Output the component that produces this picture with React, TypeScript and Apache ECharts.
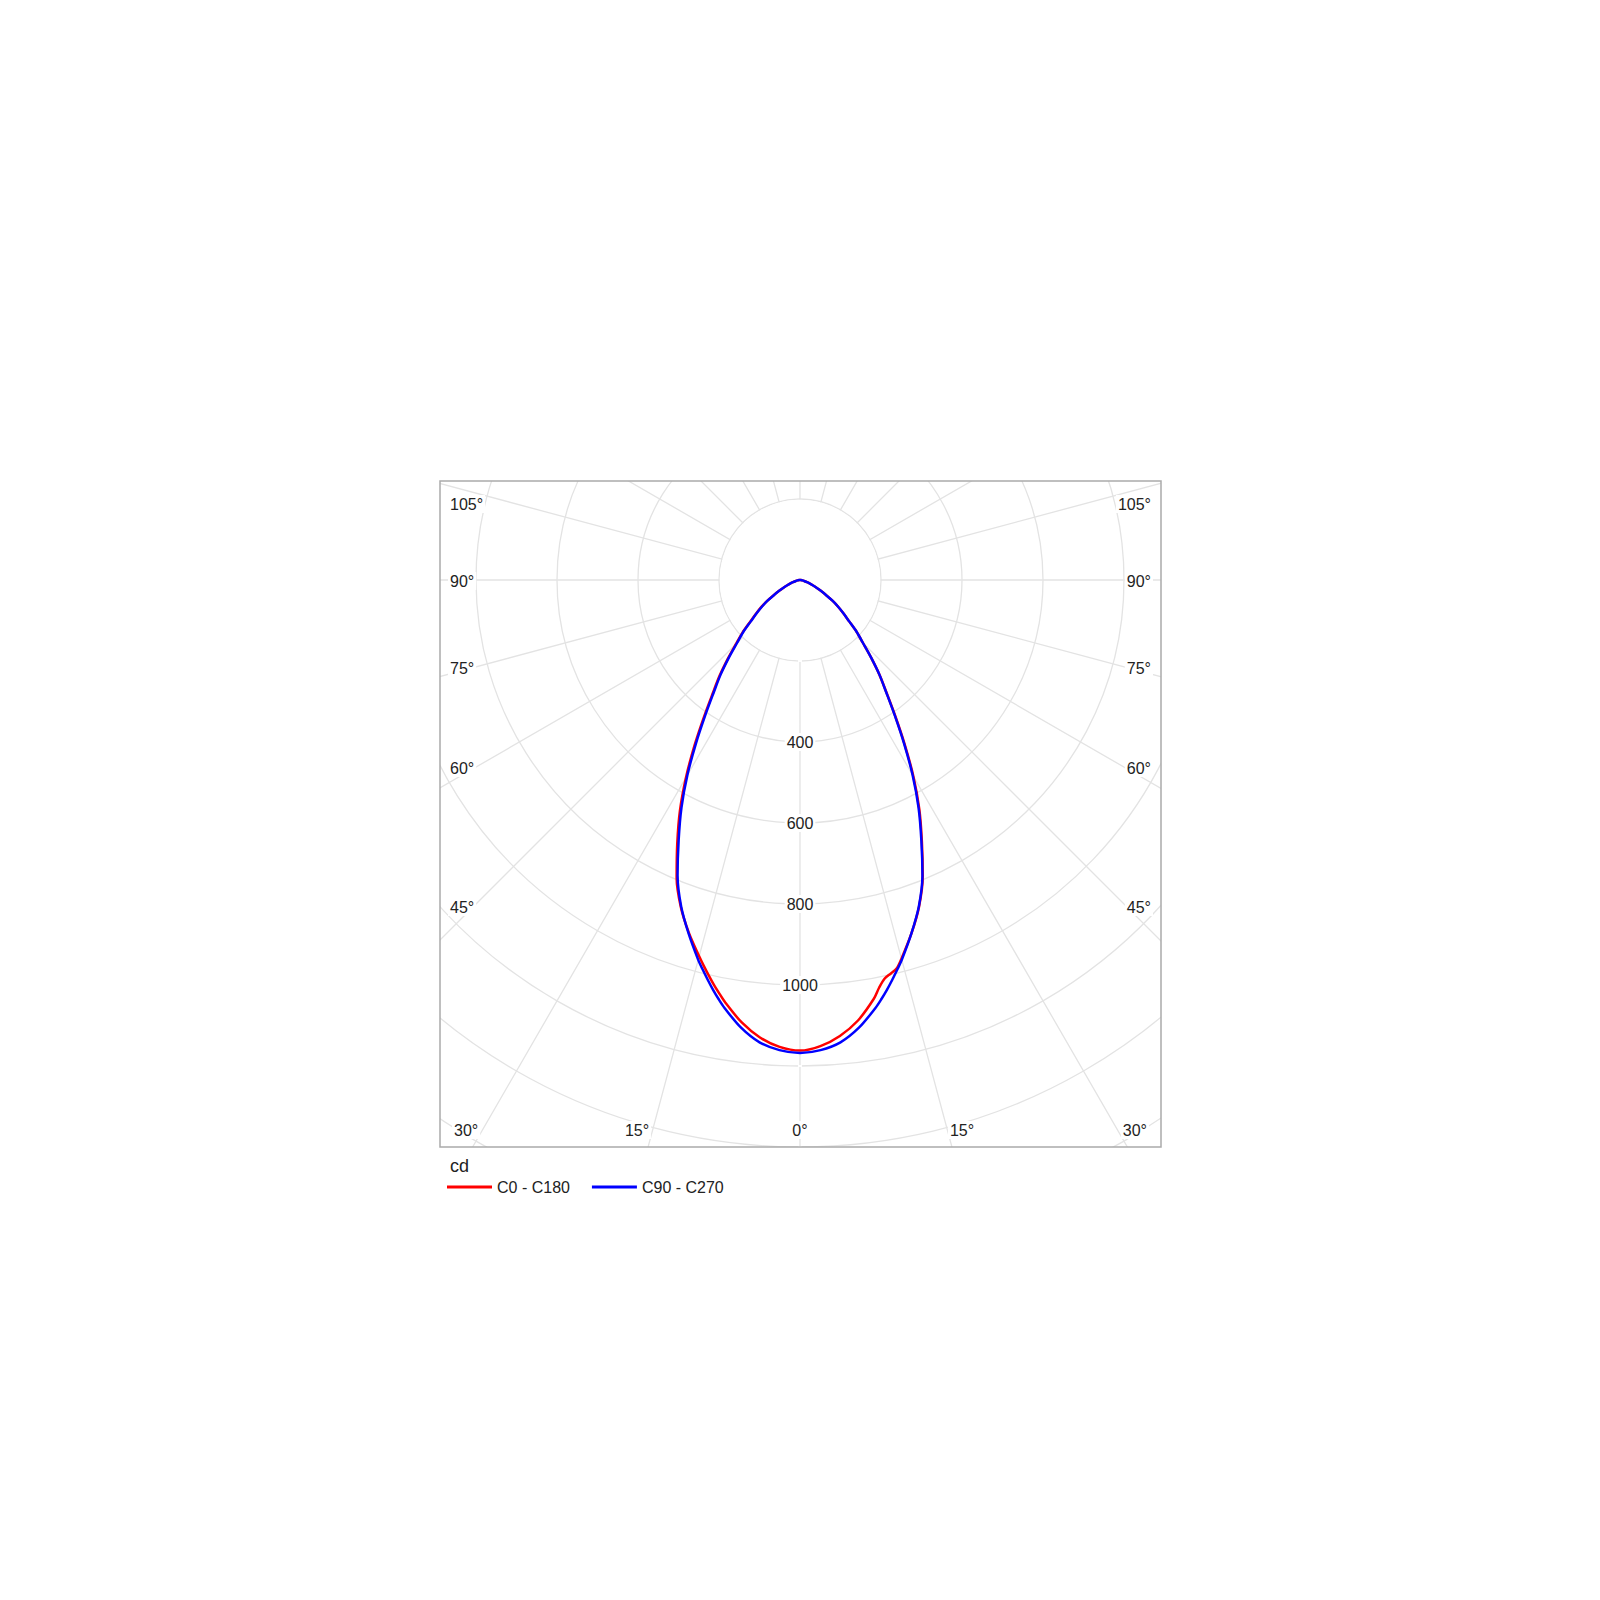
import { useEffect, useRef } from 'react';
import * as echarts from 'echarts';

// Gamma angles (deg from nadir) at which intensities were read
const gammaAngles = [0, 2.5, 5, 7.5, 10, 11, 12, 13, 14, 15, 17.5, 20, 22.5, 25, 27.5, 30, 32.5, 35, 37.5, 40, 42.5, 45, 47.5, 50, 52.5, 55, 57.5, 60, 62.5, 65, 67.5, 70, 72.5, 75, 80, 85, 90];

// Luminous intensity (cd) – C0 (right half of red curve)
const c0Values = [1162, 1152, 1130, 1097, 1050, 1025, 1006, 997, 988, 968, 915, 859, 792, 712, 638, 560, 481, 410, 351, 305, 260, 220, 190, 158, 135, 115, 95, 74, 58, 45, 34, 25, 18, 12, 6, 2, 0];
// C180 (left half of red curve)
const c180Values = [1162, 1154, 1134, 1102, 1060, 1041, 1022, 1002, 982, 962, 913, 860, 796, 717, 642, 563, 485, 414, 355, 309, 264, 224, 193, 161, 137, 117, 96, 75, 58, 45, 34, 25, 18, 12, 6, 2, 0];
// C90 (right half of blue curve)
const c90Values = [1168, 1162, 1146, 1115, 1073, 1054, 1034, 1013, 992, 971, 915, 858, 790, 709, 634, 556, 478, 408, 350, 305, 260, 220, 190, 158, 135, 115, 95, 74, 58, 45, 34, 25, 18, 12, 6, 2, 0];
// C270 (left half of blue curve)
const c270Values = [1168, 1162, 1146, 1115, 1073, 1054, 1034, 1013, 992, 971, 915, 858, 790, 709, 634, 556, 478, 408, 350, 305, 260, 220, 190, 158, 135, 115, 95, 74, 58, 45, 34, 25, 18, 12, 6, 2, 0];

const ringLabelValues = [400, 600, 800, 1000];
const sideAngleLabels = ['105°', '90°', '75°', '60°', '45°'];
const bottomAngleLabels = ['30°', '15°', '0°', '15°', '30°'];
const legendNames = ['C0 - C180', 'C90 - C270'];
const unitLabel = 'cd';
const seriesColors = ['#ff0000', '#0000ff'];

// layout (pixels)
const CX = 800;
const CY = 580;
const PX_PER_CD = 0.405;
const R_MAX = 2000;
const BOX = { x: 440, y: 481, w: 721, h: 666 };
const sideLabelY = [504, 581, 668, 768, 907];
const bottomLabelX = [452, 637, 800, 962, 1149];
const bottomLabelAlign = ['left', 'center', 'center', 'center', 'right'];

const FONT = '"Liberation Sans", Arial, sans-serif';

function buildPath(rightVals: number[], leftVals: number[]) {
  const pts: number[][] = [];
  for (let i = gammaAngles.length - 1; i >= 0; i--) pts.push([rightVals[i], 360 - gammaAngles[i]]);
  for (let i = 1; i < gammaAngles.length; i++) pts.push([leftVals[i], gammaAngles[i]]);
  return pts;
}

export default function App() {
  const ref = useRef<HTMLDivElement>(null);
  useEffect(() => {
    if (!ref.current) return;
    const chart = echarts.init(ref.current, undefined, { renderer: 'svg' });
    const gridColor = '#e3e3e3';
    const textColor = '#222';

    const labelText = (text: string, x: number, y: number, align: string) => ({
      type: 'text',
      x,
      y,
      z: 20,
      style: {
        text,
        fill: textColor,
        font: `16px ${FONT}`,
        align,
        verticalAlign: 'middle',
        backgroundColor: '#ffffff',
        padding: [1, 2],
      },
    });

    const graphics: any[] = [
      // hole in the middle (radial lines start at the first ring)
      { type: 'circle', z: 1, shape: { cx: CX, cy: CY, r: 200 * PX_PER_CD - 0.8 }, style: { fill: '#ffffff' } },
      // masks outside the frame
      { type: 'rect', z: 10, shape: { x: 0, y: 0, width: 1600, height: BOX.y }, style: { fill: '#ffffff' } },
      { type: 'rect', z: 10, shape: { x: 0, y: BOX.y + BOX.h, width: 1600, height: 1600 - BOX.y - BOX.h }, style: { fill: '#ffffff' } },
      { type: 'rect', z: 10, shape: { x: 0, y: BOX.y, width: BOX.x, height: BOX.h }, style: { fill: '#ffffff' } },
      { type: 'rect', z: 10, shape: { x: BOX.x + BOX.w, y: BOX.y, width: 1600 - BOX.x - BOX.w, height: BOX.h }, style: { fill: '#ffffff' } },
      // frame
      { type: 'rect', z: 15, shape: { x: BOX.x, y: BOX.y, width: BOX.w, height: BOX.h }, style: { fill: 'none', stroke: '#ababab', lineWidth: 1.5 } },
      // unit
      { type: 'text', z: 20, x: 450, y: 1166, style: { text: unitLabel, fill: textColor, font: `18px ${FONT}`, align: 'left', verticalAlign: 'middle' } },
    ];
    sideAngleLabels.forEach((t, i) => {
      graphics.push(labelText(t, 448, sideLabelY[i], 'left'));
      graphics.push(labelText(t, 1153, sideLabelY[i], 'right'));
    });
    bottomAngleLabels.forEach((t, i) => {
      graphics.push(labelText(t, bottomLabelX[i], 1130, bottomLabelAlign[i]));
    });

    chart.setOption({
      animation: false,
      backgroundColor: '#ffffff',
      polar: { center: [CX, CY], radius: [0, R_MAX * PX_PER_CD] },
      angleAxis: {
        type: 'value',
        min: 0,
        max: 360,
        interval: 15,
        startAngle: 270,
        clockwise: true,
        axisLine: { show: false },
        axisTick: { show: false },
        axisLabel: { show: false },
        splitLine: { show: true, lineStyle: { color: gridColor, width: 1.3 } },
        z: 0,
      },
      radiusAxis: {
        type: 'value',
        min: 0,
        max: R_MAX,
        interval: 200,
        axisLine: { show: false },
        axisTick: { show: false },
        splitLine: { show: true, lineStyle: { color: gridColor, width: 1.3 } },
        axisLabel: {
          show: true,
          formatter: (v: number) => (ringLabelValues.includes(v) ? String(v) : ''),
          margin: 0,
          align: 'center',
          verticalAlign: 'middle',
          color: textColor,
          fontSize: 16,
          fontFamily: FONT,
          backgroundColor: '#ffffff',
          padding: [1, 2],
        },
        z: 0,
      },
      legend: {
        data: legendNames,
        left: 442,
        top: 1174,
        icon: 'rect',
        itemWidth: 45,
        itemHeight: 3,
        itemGap: 22,
        textStyle: { fontSize: 16, color: textColor, fontFamily: FONT },
        z: 20,
      },
      graphic: graphics,
      series: [
        {
          type: 'line',
          name: legendNames[0],
          coordinateSystem: 'polar',
          data: buildPath(c0Values, c180Values),
          symbol: 'none',
          smooth: 0.3,
          lineStyle: { color: seriesColors[0], width: 2.5 },
          itemStyle: { color: seriesColors[0] },
          z: 3,
        },
        {
          type: 'line',
          name: legendNames[1],
          coordinateSystem: 'polar',
          data: buildPath(c90Values, c270Values),
          symbol: 'none',
          smooth: 0.3,
          lineStyle: { color: seriesColors[1], width: 2.5 },
          itemStyle: { color: seriesColors[1] },
          z: 4,
        },
      ],
    });
    return () => chart.dispose();
  }, []);
  return <div ref={ref} style={{ position: 'absolute', left: 0, top: 0, width: 1600, height: 1600 }} />;
}
